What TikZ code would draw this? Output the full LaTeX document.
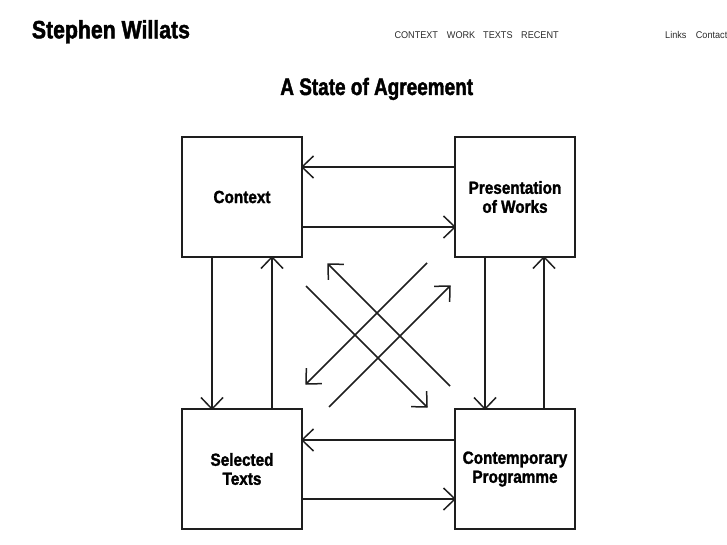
\documentclass[tikz,border=0pt]{standalone}
\usepackage{fontspec}
\setmainfont{Liberation Sans}
\newfontfamily\condfont[FakeStretch=0.87,BoldFeatures={FakeBold=1.6}]{Liberation Sans}
\newfontfamily\titlefont[FakeStretch=0.80,BoldFeatures={FakeBold=1.8}]{Liberation Sans}
\newfontfamily\namefont[FakeStretch=0.85,BoldFeatures={FakeBold=1.8}]{Liberation Sans}
\newfontfamily\menufont[FakeStretch=0.93]{Liberation Sans}
\usetikzlibrary{arrows.meta}
\definecolor{inkgrey}{HTML}{1E1E1E}
\definecolor{menugrey}{HTML}{2A2A2A}
% plain open V head
\pgfdeclarearrow{
  name = Open Vee,
  parameters = {\the\pgfarrowlength,\the\pgfarrowwidth},
  setup code = {
    \pgfarrowssettipend{0pt}
    \pgfarrowssetlineend{-0.5\pgflinewidth}
    \pgfarrowssetbackend{-\pgfarrowlength}
    \pgfarrowsupperhullpoint{-\pgfarrowlength}{.5\pgfarrowwidth}
    \pgfarrowsupperhullpoint{0pt}{0pt}
    \pgfarrowssavethe\pgfarrowlength
    \pgfarrowssavethe\pgfarrowwidth
  },
  drawing code = {
    \pgfsetroundjoin
    \pgfsetbuttcap
    \pgfpathmoveto{\pgfqpoint{-\pgfarrowlength}{.5\pgfarrowwidth}}
    \pgfpathlineto{\pgfpointorigin}
    \pgfpathlineto{\pgfqpoint{-\pgfarrowlength}{-.5\pgfarrowwidth}}
    \pgfusepathqstroke
  },
  defaults = {length=11.5pt,width=22pt}
}
\tikzstyle{workbox}=[rectangle,draw=inkgrey,line width=1.8pt,
  minimum size=120pt,inner sep=0pt,outer sep=0pt,
  font=\fontsize{17.6}{19}\condfont\bfseries,align=center]
\tikzstyle{arr}=[-{Open Vee},line width=1.5pt,color=inkgrey]
\tikzstyle{menu}=[anchor=base west,inner sep=0pt,
  font=\fontsize{9.8}{12}\menufont,text=menugrey]

\begin{document}
\begin{tikzpicture}[x=1pt,y=-1pt]
  \useasboundingbox (0,0) rectangle (727,545);
  % header
  \node[anchor=base west,inner sep=0pt,font=\fontsize{25}{30}\namefont\bfseries] (artist) at (31.7,38.3) {Stephen Willats};
  \node[menu] (mcontext) at (394.3,39) {CONTEXT};
  \node[menu] (mwork) at (446.7,39) {WORK};
  \node[menu] (mtexts) at (483,39) {TEXTS};
  \node[menu] (mrecent) at (521,39) {RECENT};
  \node[menu] (mlinks) at (665,39) {Links};
  \node[menu] (mcontact) at (695.7,39) {Contact};
  \node[anchor=base,inner sep=0pt,font=\fontsize{23.7}{28}\titlefont\bfseries] (title) at (376.7,95) {A State of Agreement};
  % the four boxes
  \node[workbox] (ctx) at (242,197) {Context};
  \node[workbox] (pres) at (515,197) {Presentation\\of Works};
  \node[workbox] (sel) at (242,469) {Selected\\Texts};
  \node[workbox] (prog) at (515,469) {Contemporary\\Programme};
  % side arrows
  \draw[arr] ([yshift=-30pt]pres.north west) -- ([yshift=-30pt]ctx.north east);
  \draw[arr] ([yshift=-90pt]ctx.north east) -- ([yshift=-90pt]pres.north west);
  \draw[arr] ([yshift=-31pt]prog.north west) -- ([yshift=-31pt]sel.north east);
  \draw[arr] ([yshift=-90pt]sel.north east) -- ([yshift=-90pt]prog.north west);
  \draw[arr] ([xshift=30pt]ctx.south west) -- ([xshift=30pt]sel.north west);
  \draw[arr] ([xshift=90pt]sel.north west) -- ([xshift=90pt]ctx.south west);
  \draw[arr] ([xshift=30pt]pres.south west) -- ([xshift=30pt]prog.north west);
  \draw[arr] ([xshift=89pt]prog.north west) -- ([xshift=89pt]pres.south west);
  % crossing arrows in the middle
  \coordinate (xa1) at (450,386); \coordinate (xa2) at (328,264);
  \coordinate (xb1) at (427,263); \coordinate (xb2) at (306,384);
  \coordinate (xc1) at (306,286); \coordinate (xc2) at (427,407);
  \coordinate (xd1) at (329,407); \coordinate (xd2) at (450,286);
  \draw[arr] (xa1) -- (xa2);
  \draw[arr] (xb1) -- (xb2);
  \draw[arr] (xc1) -- (xc2);
  \draw[arr] (xd1) -- (xd2);
\end{tikzpicture}
\end{document}
